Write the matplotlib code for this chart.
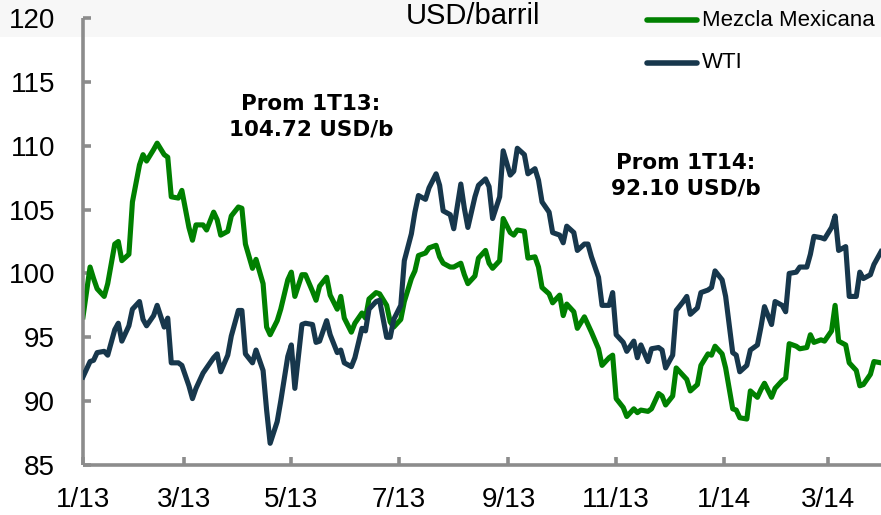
# Precio del petróleo: Mezcla Mexicana vs WTI (USD/barril)

import pandas as pd
import matplotlib.pyplot as plt
from matplotlib.patches import Rectangle

# one value every two trading days
dates = pd.bdate_range('2013-01-03', periods=162, freq='2B')

mezcla = [
    96.6, 100.5, 99.6, 98.8, 98.2, 99.2, 102.3, 102.5, 101.0, 101.5,
    105.6, 108.5, 109.3, 108.8, 109.7, 110.2, 109.3, 109.1, 106.0, 105.9,
    106.5, 103.6, 102.6, 103.8, 103.8, 103.4, 104.8, 104.2, 103.0, 103.3,
    104.5, 105.2, 105.1, 102.3, 100.4, 101.1, 99.2, 95.8, 95.2, 96.3,
    97.2, 99.5, 100.1, 98.2, 99.9, 99.9, 98.6, 97.9, 99.0, 99.7,
    98.3, 97.2, 98.2, 96.5, 95.4, 96.1, 96.9, 96.5, 98.0, 98.5,
    98.4, 97.5, 96.2, 95.8, 96.4, 97.8, 99.6, 100.2, 101.4, 101.6,
    102.0, 102.2, 101.3, 100.8, 100.5, 100.5, 100.8, 99.9, 99.2, 99.8,
    101.2, 101.8, 100.8, 100.4, 101.0, 104.3, 103.2, 103.0, 103.4, 103.3,
    101.2, 101.3, 100.5, 98.9, 98.4, 97.7, 98.3, 96.7, 97.6, 97.0,
    95.7, 96.6, 96.0, 95.4, 94.1, 92.8, 93.4, 93.6, 90.2, 89.5,
    88.8, 89.4, 89.1, 89.3, 89.2, 89.4, 90.6, 90.4, 89.7, 90.4,
    92.6, 92.0, 91.7, 90.8, 91.3, 92.8, 93.7, 93.6, 94.3, 93.7,
    92.6, 89.4, 89.3, 88.7, 88.6, 90.8, 90.3, 90.9, 91.4, 90.3,
    91.0, 91.6, 91.8, 94.5, 94.3, 94.1, 94.2, 95.2, 94.6, 94.8,
    94.7, 95.5, 97.5, 94.7, 94.4, 93.0, 92.4, 91.2, 91.3, 92.1,
    93.1, 93.0,
]

wti = [
    91.9, 93.1, 93.2, 93.8, 93.9, 93.6, 95.6, 96.1, 94.7, 95.9,
    97.2, 97.8, 96.4, 95.9, 96.7, 97.5, 95.8, 96.5, 93.0, 93.0,
    92.8, 91.2, 90.2, 91.0, 92.2, 92.6, 93.4, 93.7, 92.3, 93.6,
    95.1, 97.1, 97.1, 93.7, 93.0, 94.0, 92.4, 89.3, 86.7, 88.4,
    90.0, 93.5, 94.4, 91.0, 96.0, 96.1, 96.0, 94.6, 94.7, 96.3,
    95.2, 93.8, 94.0, 93.0, 92.7, 93.4, 95.7, 95.5, 97.2, 97.8,
    97.9, 95.0, 95.0, 96.4, 97.5, 101.0, 103.1, 104.8, 106.1, 105.8,
    106.7, 107.8, 106.9, 104.9, 104.6, 103.5, 107.0, 105.1, 103.6, 106.0,
    106.9, 107.4, 106.8, 104.3, 106.0, 109.6, 107.7, 108.0, 109.8, 109.3,
    107.8, 108.2, 107.3, 105.6, 104.8, 103.2, 103.0, 102.4, 103.7, 103.2,
    101.8, 102.3, 102.3, 101.3, 99.7, 97.5, 97.5, 98.5, 95.2, 94.6,
    93.9, 94.7, 93.4, 94.4, 93.1, 94.1, 94.2, 94.0, 92.6, 93.6,
    97.1, 97.8, 98.2, 96.8, 97.3, 98.5, 98.7, 98.9, 100.2, 99.5,
    98.2, 93.8, 93.6, 92.3, 92.8, 94.0, 94.4, 95.8, 97.4, 96.0,
    97.8, 97.5, 97.0, 100.0, 100.1, 100.5, 100.5, 101.5, 102.9, 102.8,
    102.7, 103.6, 104.5, 101.8, 102.1, 98.2, 98.2, 100.1, 99.6, 99.9,
    100.7, 101.7,
]

tick_dates = ['2013-01-03', '2013-03-01', '2013-05-01', '2013-07-01',
              '2013-09-01', '2013-11-01', '2014-01-01', '2014-03-01']
tick_labels = ['1/13', '3/13', '5/13', '7/13', '9/13', '11/13', '1/14', '3/14']

green = '#008000'
navy = '#17374c'
gray = '#8c8c8c'

W, H = 881, 515
fig = plt.figure(figsize=(W / 100, H / 100), dpi=100)

# faint grey band at the top of the picture (behind everything)
band = Rectangle((0, 1 - 37 / H), 1, 37 / H, transform=fig.transFigure,
                 facecolor='#f7f7f7', edgecolor='none', zorder=-10)
fig.patches.append(band)

ax = fig.add_axes([83 / W, 1 - 465 / H, (W - 83) / W, (465 - 18) / H])
ax.patch.set_alpha(0)

ax.plot(dates, mezcla, color=green, lw=3.7, solid_joinstyle='round', zorder=2)
ax.plot(dates, wti, color=navy, lw=3.7, solid_joinstyle='round', zorder=3)

ax.set_ylim(85, 120)
ax.set_xlim(dates[0], dates[-1])
ax.set_yticks(range(85, 121, 5))
ax.set_xticks(pd.to_datetime(tick_dates))
ax.set_xticklabels(tick_labels)

for s in ['top', 'right']:
    ax.spines[s].set_visible(False)
for s in ['left', 'bottom']:
    ax.spines[s].set_color(gray)
    ax.spines[s].set_linewidth(2.6)
    ax.spines[s].set_capstyle('butt')

ax.tick_params(axis='both', direction='in', length=6, width=2.6, color=gray,
               labelsize=20, labelcolor='black')
ax.tick_params(axis='y', pad=20)
ax.tick_params(axis='x', pad=16)
for lab in ax.get_xticklabels() + ax.get_yticklabels():
    lab.set_fontfamily('Liberation Sans')

# title, sitting right at the top edge as in the original
fig.text(473 / W, 1 - 24 / H, 'USD/barril', ha='center', va='baseline',
         fontsize=21, family='Liberation Sans')

# legend drawn by hand
leg_items = [('Mezcla Mexicana', green, 20), ('WTI', navy, 63)]
for name, col, ypix in leg_items:
    fig.add_artist(plt.Line2D([647 / W, 697 / W], [1 - ypix / H, 1 - ypix / H],
                              transform=fig.transFigure, color=col, lw=4,
                              solid_capstyle='round'))
    fig.text(702 / W, 1 - ypix / H, name, ha='left', va='center',
             fontsize=16, family='Liberation Sans')

# quarterly averages
fig.text(311 / W, 1 - 117 / H, 'Prom 1T13:\n104.72 USD/b', ha='center', va='center',
         fontsize=15.5, fontweight='bold', linespacing=1.35)
fig.text(686 / W, 1 - 176 / H, 'Prom 1T14:\n92.10 USD/b', ha='center', va='center',
         fontsize=15.5, fontweight='bold', linespacing=1.35)

fig.savefig('out.png', dpi=100)
